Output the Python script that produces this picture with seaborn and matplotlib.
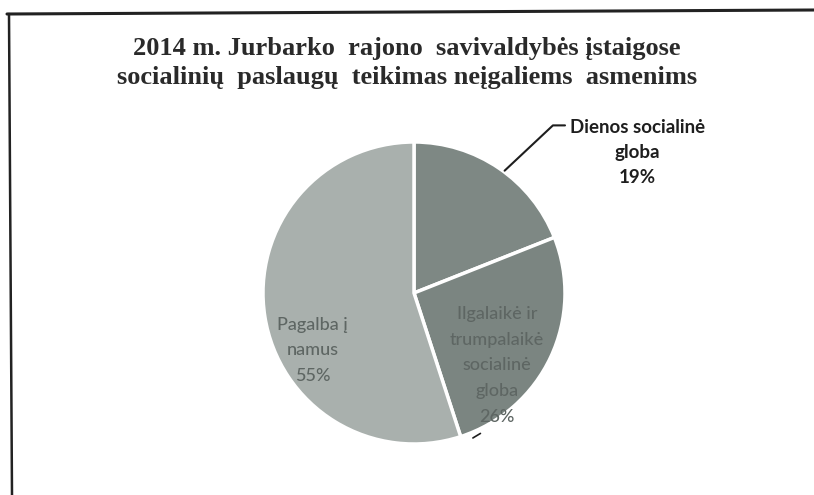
import matplotlib
matplotlib.use("Agg")
import matplotlib.pyplot as plt
import seaborn as sns
from matplotlib.lines import Line2D

# Datos del grafico
kategorijos = ["Dienos socialinė\ngloba", "Ilgalaikė ir\ntrumpalaikė\nsocialinė\ngloba", "Pagalba į\nnamus"]
procentai = [19, 26, 55]
spalvos = ["#7e8884", "#7b8581", "#a9b0ad"]
pavadinimas = "2014 m. Jurbarko  rajono  savivaldybės įstaigose\nsocialinių  paslaugų  teikimas neįgaliems  asmenims"

sns.set_theme(style="white")
plt.rcParams["font.family"] = ["Lato", "DejaVu Sans"]

fig = plt.figure(figsize=(8.14, 4.95), dpi=100)
fig.patch.set_facecolor("white")

# remelis (kaip nuskenuotame paveiksle)
fig.add_artist(Line2D([7 / 814, 1.0], [1 - 14 / 495, 1 - 10 / 495], color="#222222", lw=2.2))
fig.add_artist(Line2D([9 / 814, 12 / 814], [1 - 14 / 495, 0.0], color="#222222", lw=1.8))

fig.text(407 / 814, 1 - 63 / 495, pavadinimas, ha="center", va="center",
         family=["Liberation Serif", "DejaVu Serif"], fontweight="bold",
         fontsize=19, color="#2a2a2a", linespacing=1.35)

r = 151
cx, cy = 414, 293
ax = fig.add_axes([(cx - r) / 814, (495 - cy - r) / 495, 2 * r / 814, 2 * r / 495])
ax.pie(procentai, colors=spalvos, startangle=90, counterclock=False, radius=1,
       wedgeprops=dict(edgecolor="white", linewidth=2.5))
ax.set_xlim(-1, 1)
ax.set_ylim(-1, 1)
ax.set_aspect("auto")
ax.axis("off")

# etiketes
ax.text(1.48, 0.93, f"{kategorijos[0]}\n{procentai[0]}%", ha="center", va="center",
        fontsize=13.5, fontweight="bold", color="#1e1e1e", linespacing=1.6, clip_on=False)
ax.plot([0.60, 0.92, 1.0], [0.81, 1.11, 1.11], color="#1e1e1e", lw=1.5, clip_on=False)

ax.text(0.55, -0.48, f"{kategorijos[1]}\n{procentai[1]}%", ha="center", va="center",
        fontsize=13, fontweight="medium", color="#5e6663", linespacing=1.75)
ax.plot([0.39, 0.44], [-0.96, -0.93], color="#1e1e1e", lw=1.2)

ax.text(-0.67, -0.38, f"{kategorijos[2]}\n{procentai[2]}%", ha="center", va="center",
        fontsize=13, fontweight="medium", color="#5e6663", linespacing=1.75)

fig.savefig("out.png", dpi=100, facecolor="white")
